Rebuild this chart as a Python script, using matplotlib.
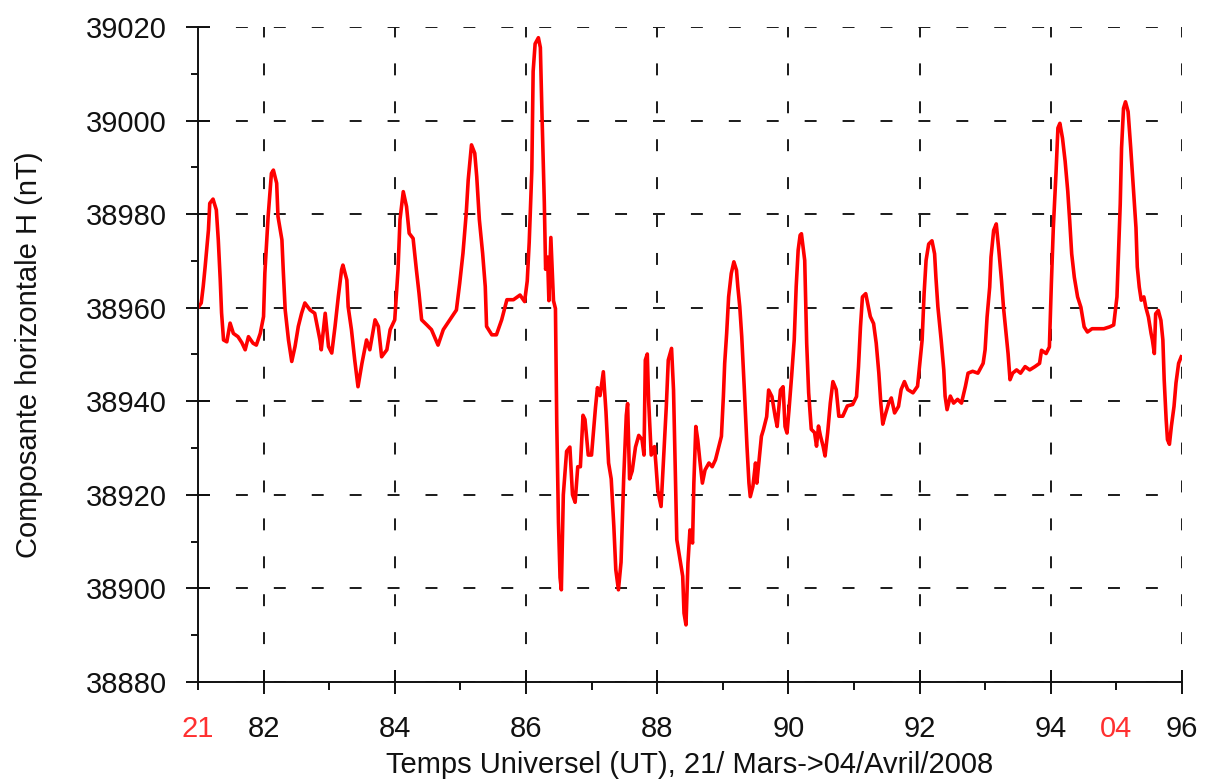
import matplotlib
matplotlib.use("Agg")
import matplotlib.pyplot as plt
from matplotlib.ticker import MultipleLocator, FixedLocator, FixedFormatter

plt.rcParams['font.family'] = ['Liberation Sans', 'DejaVu Sans']
plt.rcParams['lines.scale_dashes'] = False

# Jour de l'annee (UT) et composante horizontale H (nT)
days = [81.00, 81.05, 81.08, 81.11, 81.16, 81.18, 81.23, 81.28, 81.31, 81.34,
        81.36, 81.39, 81.44, 81.49, 81.54, 81.61, 81.67, 81.72, 81.77, 81.84,
        81.89, 81.95, 82.00, 82.02, 82.07, 82.12, 82.15, 82.20, 82.22, 82.28,
        82.30, 82.33, 82.38, 82.43, 82.48, 82.53, 82.58, 82.63, 82.71, 82.78,
        82.86, 82.88, 82.94, 82.99, 83.04, 83.09, 83.14, 83.19, 83.21, 83.27,
        83.29, 83.34, 83.39, 83.44, 83.50, 83.57, 83.62, 83.70, 83.75, 83.80,
        83.88, 83.93, 84.00, 84.05, 84.08, 84.13, 84.18, 84.22, 84.28, 84.33,
        84.37, 84.41, 84.49, 84.56, 84.66, 84.74, 84.84, 84.94, 84.99, 85.04,
        85.09, 85.12, 85.17, 85.22, 85.25, 85.29, 85.34, 85.38, 85.40, 85.48,
        85.55, 85.63, 85.71, 85.81, 85.91, 85.98, 86.02, 86.05, 86.09, 86.11,
        86.14, 86.19, 86.22, 86.245, 86.28, 86.30, 86.33, 86.35, 86.38, 86.42,
        86.45, 86.47, 86.496, 86.52, 86.54, 86.57, 86.62, 86.67, 86.71, 86.75,
        86.79, 86.83, 86.87, 86.90, 86.95, 87.00, 87.06, 87.09, 87.13, 87.18,
        87.22, 87.26, 87.30, 87.34, 87.37, 87.41, 87.45, 87.49, 87.53, 87.55,
        87.58, 87.62, 87.67, 87.72, 87.77, 87.80, 87.82, 87.85, 87.87, 87.91,
        87.96, 87.98, 88.01, 88.06, 88.10, 88.14, 88.17, 88.22, 88.25, 88.27,
        88.30, 88.35, 88.39, 88.41, 88.44, 88.47, 88.50, 88.54, 88.56, 88.59,
        88.62, 88.65, 88.69, 88.73, 88.79, 88.84, 88.89, 88.94, 88.98, 89.01,
        89.03, 89.06, 89.09, 89.13, 89.17, 89.21, 89.23, 89.26, 89.29, 89.33,
        89.37, 89.40, 89.42, 89.46, 89.50, 89.52, 89.56, 89.59, 89.62, 89.67,
        89.70, 89.75, 89.80, 89.83, 89.88, 89.92, 89.95, 89.98, 90.01, 90.05,
        90.09, 90.12, 90.15, 90.18, 90.20, 90.25, 90.28, 90.31, 90.35, 90.40,
        90.43, 90.46, 90.49, 90.53, 90.56, 90.60, 90.64, 90.68, 90.73, 90.77,
        90.83, 90.90, 90.98, 91.04, 91.07, 91.10, 91.13, 91.18, 91.21, 91.25,
        91.30, 91.34, 91.38, 91.41, 91.44, 91.48, 91.53, 91.57, 91.62, 91.68,
        91.72, 91.77, 91.82, 91.90, 91.97, 92.00, 92.04, 92.07, 92.10, 92.14,
        92.19, 92.23, 92.25, 92.28, 92.33, 92.37, 92.39, 92.42, 92.47, 92.52,
        92.58, 92.64, 92.70, 92.74, 92.81, 92.89, 92.97, 93.00, 93.03, 93.07,
        93.09, 93.13, 93.17, 93.21, 93.25, 93.28, 93.32, 93.35, 93.38, 93.42,
        93.48, 93.54, 93.61, 93.68, 93.76, 93.83, 93.86, 93.93, 93.98, 94.01,
        94.04, 94.08, 94.11, 94.14, 94.18, 94.22, 94.26, 94.29, 94.32, 94.36,
        94.41, 94.46, 94.51, 94.56, 94.63, 94.71, 94.81, 94.90, 94.96, 95.01,
        95.03, 95.06, 95.08, 95.11, 95.14, 95.18, 95.22, 95.26, 95.30, 95.32,
        95.35, 95.38, 95.42, 95.45, 95.49, 95.53, 95.55, 95.58, 95.60, 95.64,
        95.68, 95.71, 95.73, 95.76, 95.78, 95.81, 95.84, 95.88, 95.91, 95.95,
        95.99]

h_nT = [38960.0, 38961.0, 38964.5, 38968.8, 38976.6, 38982.3, 38983.2, 38980.9, 38974.5, 38965.9,
        38958.9, 38953.1, 38952.7, 38956.7, 38954.5, 38953.8, 38952.5, 38951.0, 38953.8, 38952.4,
        38952.0, 38954.5, 38958.1, 38967.4, 38979.5, 38988.7, 38989.4, 38986.6, 38979.5, 38974.5,
        38968.1, 38959.5, 38953.1, 38948.5, 38951.7, 38956.0, 38958.8, 38961.0, 38959.5, 38958.8,
        38953.1, 38951.0, 38958.8, 38951.7, 38950.3, 38956.0, 38962.4, 38968.1, 38969.1, 38965.9,
        38960.2, 38955.3, 38948.8, 38943.1, 38948.1, 38953.1, 38951.0, 38957.4, 38956.0, 38949.5,
        38951.0, 38955.3, 38957.4, 38968.1, 38978.8, 38984.8, 38981.6, 38975.9, 38974.8, 38968.1,
        38963.1, 38957.4, 38956.3, 38955.3, 38952.0, 38955.3, 38957.4, 38959.5, 38965.2, 38971.6,
        38980.2, 38987.3, 38994.8, 38993.0, 38988.0, 38978.8, 38971.6, 38964.5, 38956.0, 38954.2,
        38954.2, 38957.4, 38961.7, 38961.7, 38962.7, 38961.3, 38965.7, 38974.0, 38989.4, 39010.5,
        39016.4, 39017.7, 39015.6, 39001.2, 38982.6, 38968.2, 38970.8, 38961.5, 38975.0, 38961.5,
        38959.8, 38935.3, 38914.1, 38902.3, 38899.7, 38920.0, 38929.3, 38930.2, 38920.0, 38918.4,
        38926.0, 38926.0, 38937.0, 38936.1, 38928.5, 38928.5, 38938.6, 38942.9, 38941.2, 38946.3,
        38937.8, 38926.8, 38923.4, 38913.3, 38904.0, 38899.7, 38905.6, 38923.4, 38937.0, 38939.5,
        38923.4, 38925.1, 38930.2, 38932.7, 38931.8, 38928.5, 38948.8, 38950.1, 38940.3, 38928.5,
        38930.3, 38926.8, 38921.0, 38917.5, 38928.2, 38938.9, 38948.8, 38951.3, 38942.4, 38929.6,
        38910.4, 38906.1, 38902.6, 38894.7, 38892.2, 38905.4, 38912.5, 38909.7, 38922.5, 38934.6,
        38931.7, 38927.5, 38922.5, 38925.3, 38926.8, 38926.0, 38927.5, 38930.3, 38932.5, 38941.0,
        38948.1, 38954.5, 38962.3, 38967.3, 38969.8, 38968.0, 38964.5, 38960.2, 38953.8, 38942.4,
        38930.3, 38922.5, 38919.6, 38921.8, 38926.8, 38922.5, 38928.2, 38932.5, 38933.9, 38936.7,
        38942.4, 38941.0, 38936.7, 38934.6, 38942.4, 38943.1, 38934.6, 38933.2, 38938.1, 38945.3,
        38953.1, 38964.5, 38972.3, 38975.5, 38975.8, 38970.1, 38952.4, 38941.8, 38934.0, 38933.3,
        38930.4, 38934.7, 38932.6, 38930.4, 38928.3, 38933.3, 38939.6, 38944.2, 38942.5, 38936.8,
        38936.8, 38939.0, 38939.3, 38941.0, 38947.4, 38955.9, 38962.3, 38963.0, 38960.9, 38958.1,
        38956.6, 38952.4, 38946.0, 38939.6, 38935.1, 38937.2, 38939.6, 38940.7, 38937.5, 38938.9,
        38942.5, 38944.2, 38942.5, 38941.8, 38943.2, 38947.4, 38953.1, 38963.0, 38970.1, 38973.6,
        38974.3, 38971.5, 38966.5, 38960.2, 38953.1, 38946.7, 38941.1, 38938.2, 38941.1, 38939.6,
        38940.4, 38939.6, 38943.2, 38946.0, 38946.4, 38946.0, 38948.1, 38951.0, 38958.0, 38964.4,
        38970.8, 38976.5, 38977.9, 38972.2, 38965.8, 38960.1, 38954.5, 38950.2, 38944.6, 38946.0,
        38946.7, 38946.0, 38947.4, 38946.7, 38947.4, 38948.1, 38950.9, 38950.2, 38951.6, 38965.1,
        38977.1, 38988.5, 38998.4, 38999.4, 38996.2, 38991.3, 38984.9, 38978.5, 38971.5, 38966.5,
        38962.3, 38960.1, 38955.9, 38954.8, 38955.5, 38955.5, 38955.5, 38955.9, 38956.3, 38962.3,
        38970.1, 38982.1, 38994.1, 39002.6, 39004.0, 39001.9, 38994.1, 38985.6, 38977.1, 38968.7,
        38964.4, 38961.6, 38962.3, 38960.1, 38958.0, 38954.5, 38953.1, 38950.2, 38958.7, 38959.4,
        38957.3, 38953.1, 38944.6, 38936.1, 38931.8, 38930.8, 38934.7, 38938.9, 38943.9, 38948.1,
        38949.5]

major_days = [82, 84, 86, 88, 90, 92, 94, 96]
minor_days = [81, 83, 85, 87, 89, 91, 93, 95]
minor_labels = ['21', '', '', '', '', '', '', '04']

fig = plt.figure(figsize=(12.07, 7.81), dpi=100)
ax = fig.add_axes([0.164, 0.1268, 0.8152, 0.8387])

ax.plot(days, h_nT, color='#ff0000', linewidth=2.6)

ax.set_xlim(81, 96)
ax.set_ylim(38880, 39020)

ax.xaxis.set_major_locator(FixedLocator(major_days))
ax.xaxis.set_minor_locator(FixedLocator(minor_days))
ax.xaxis.set_minor_formatter(FixedFormatter(minor_labels))
ax.yaxis.set_major_locator(MultipleLocator(20))
ax.yaxis.set_minor_locator(MultipleLocator(10))

ax.grid(True, which='major', color='#1a1a1a', linestyle=(0, (8.6, 18.7)), linewidth=1.4)

for s in ['top', 'right']:
    ax.spines[s].set_visible(False)
for s in ['left', 'bottom']:
    ax.spines[s].set_linewidth(1.4)
    ax.spines[s].set_color('#111111')

ax.tick_params(which='major', direction='inout', length=17, width=1.4,
               labelsize=21, colors='#111111')
ax.tick_params(axis='x', which='major', pad=15)
ax.tick_params(axis='y', which='major', pad=14)
ax.tick_params(axis='x', which='minor', direction='out', length=6, width=1.4,
               labelsize=21, pad=18, labelcolor='#ff3030', color='#111111')
ax.tick_params(axis='y', which='minor', direction='out', length=5, width=1.4,
               color='#111111')

ax.set_xlabel("Temps Universel (UT), 21/ Mars->04/Avril/2008", fontsize=21, color='#111111')
ax.set_ylabel("Composante horizontale H (nT)", fontsize=21, color='#111111')
ax.xaxis.set_label_coords(0.5, -0.106)
ax.yaxis.set_label_coords(-0.157, 0.5)

fig.savefig("out.png", dpi=100)
